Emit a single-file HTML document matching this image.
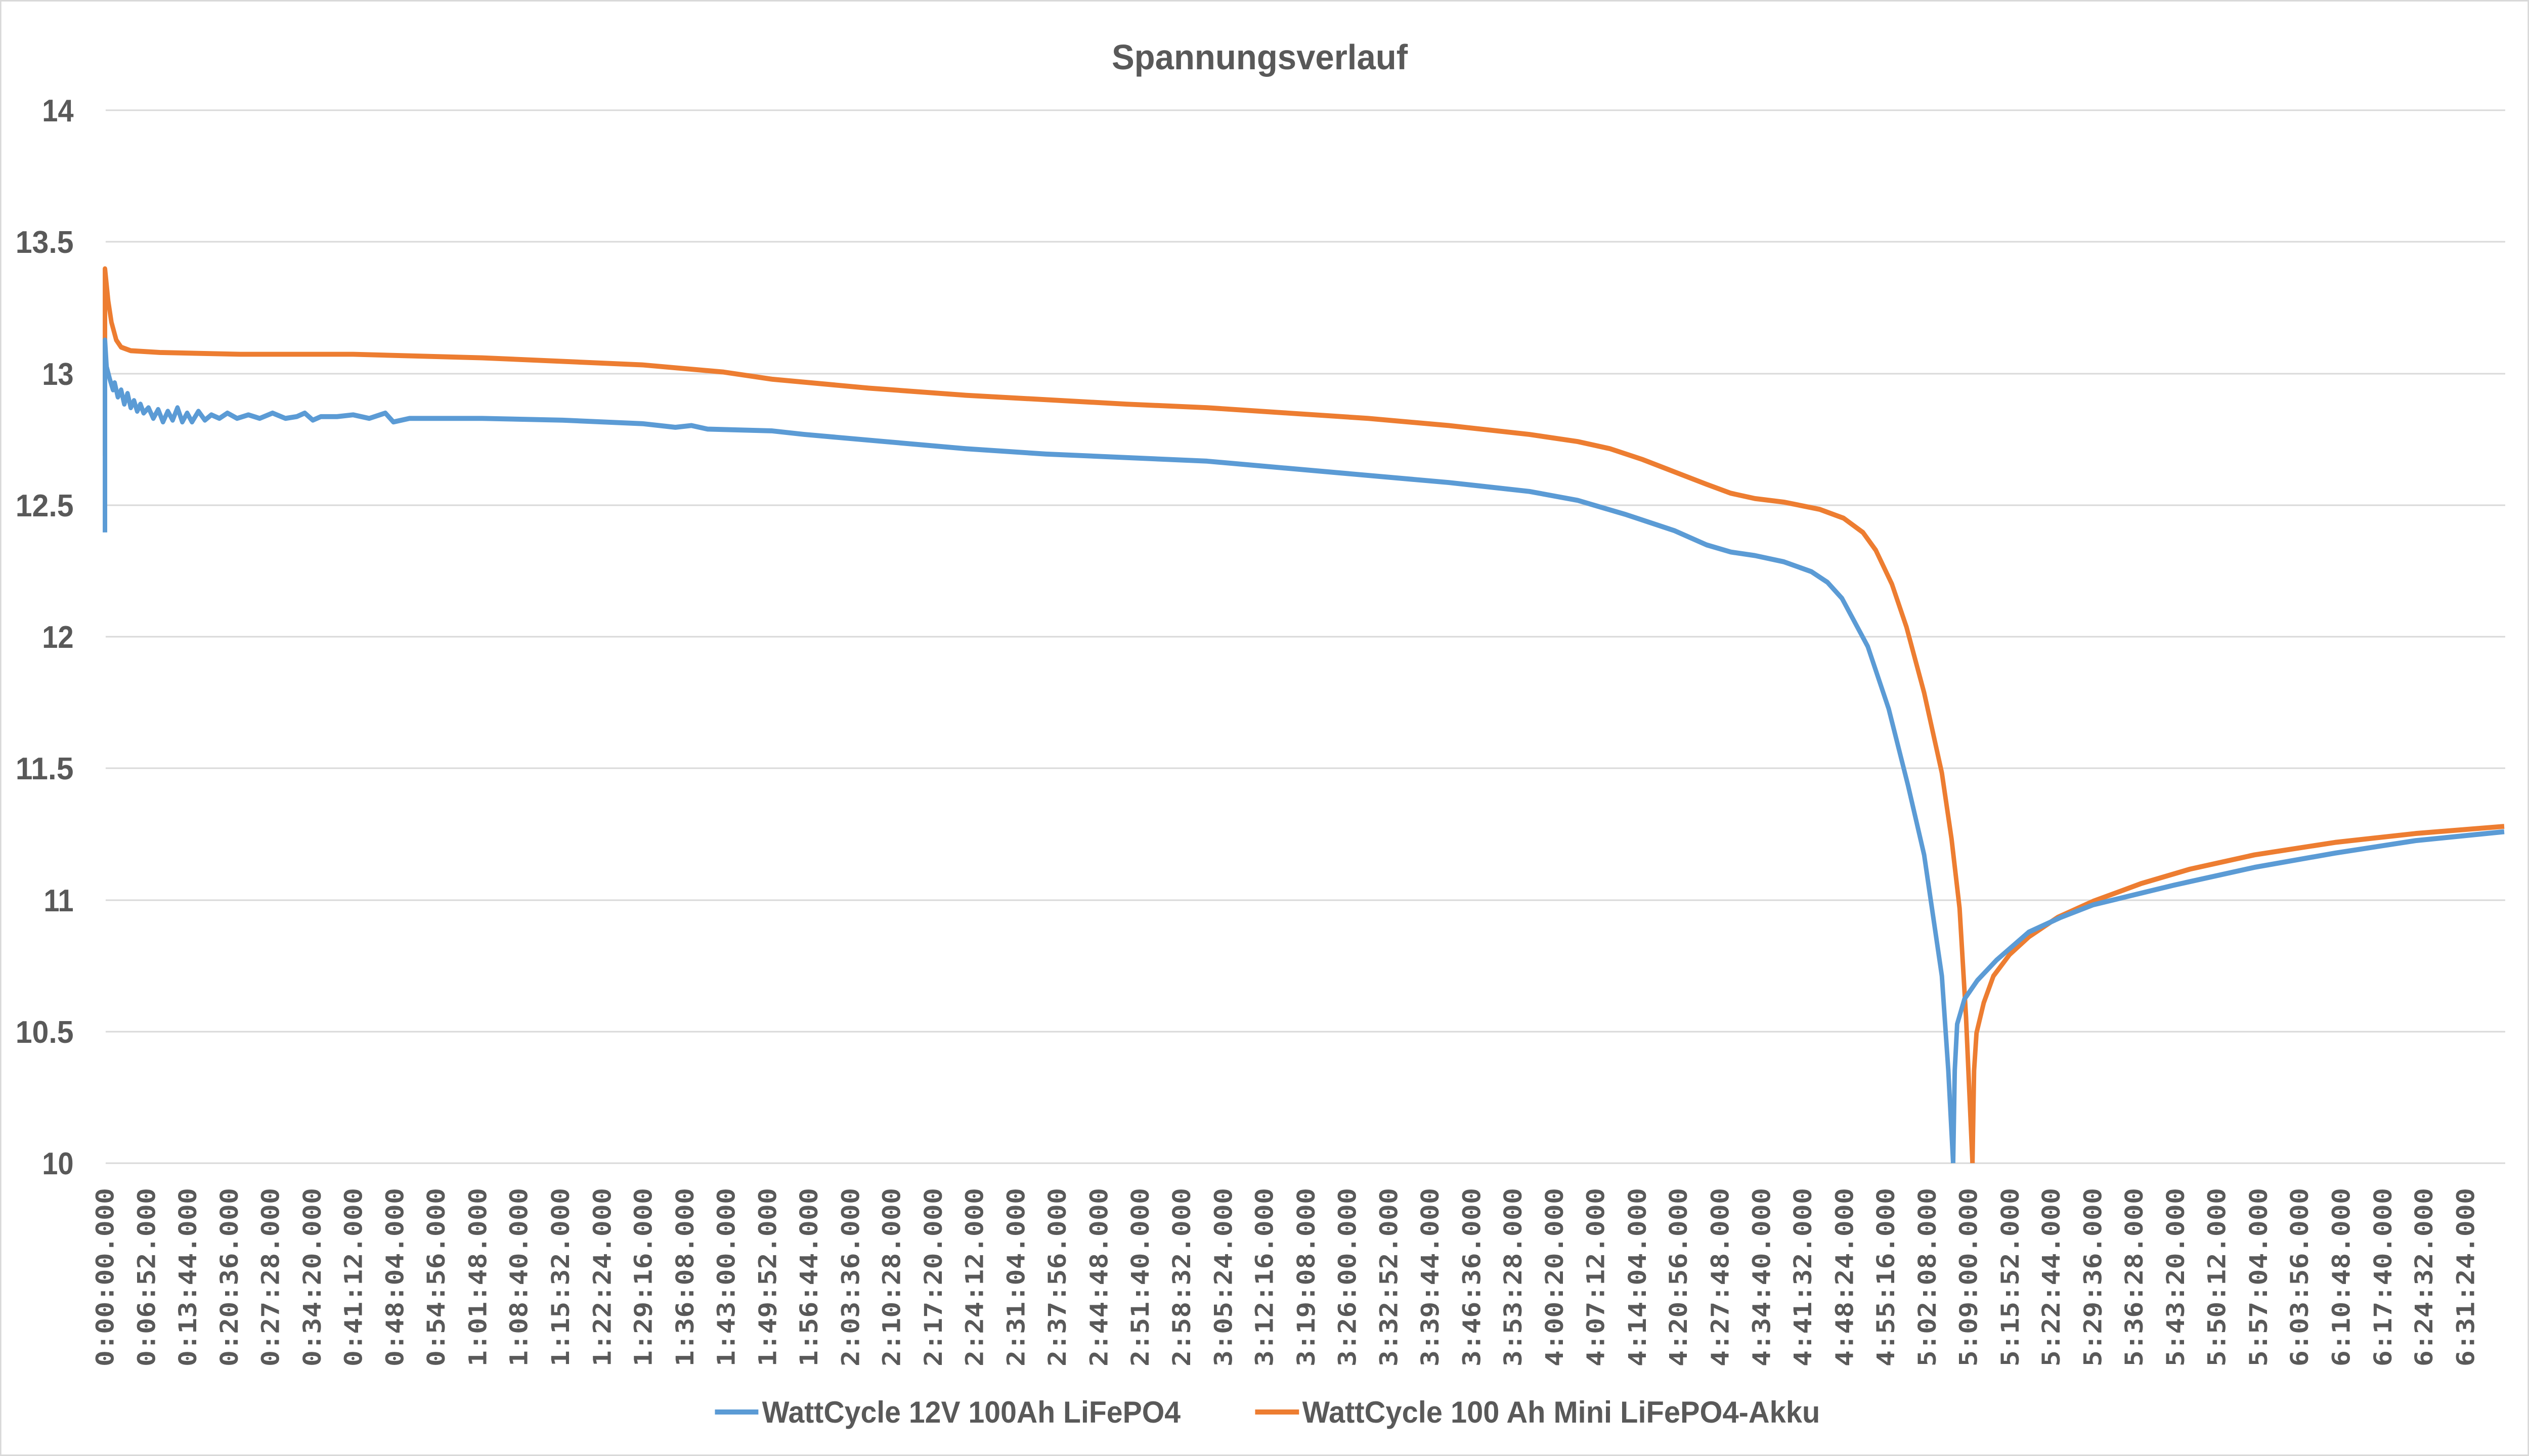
<!DOCTYPE html>
<html><head><meta charset="utf-8"><style>
html,body{margin:0;padding:0;background:#fff;overflow:hidden;width:100%;height:100%}
svg{display:block;width:100vw;height:100vh}
</style></head><body>
<svg viewBox="0 0 5529 2879" preserveAspectRatio="none" xmlns="http://www.w3.org/2000/svg">
<rect x="1.5" y="1.5" width="5526" height="2876" fill="#fff" stroke="#d9d9d9" stroke-width="3"/>
<g stroke="#d9d9d9" stroke-width="3">
<line x1="231" y1="218" x2="5477" y2="218"/>
<line x1="231" y1="478" x2="5477" y2="478"/>
<line x1="231" y1="739" x2="5477" y2="739"/>
<line x1="231" y1="999" x2="5477" y2="999"/>
<line x1="231" y1="1259" x2="5477" y2="1259"/>
<line x1="231" y1="1519" x2="5477" y2="1519"/>
<line x1="231" y1="1780" x2="5477" y2="1780"/>
<line x1="231" y1="2040" x2="5477" y2="2040"/>
<line x1="231" y1="2300" x2="5477" y2="2300"/>
</g>
<text x="2754" y="137" text-anchor="middle" font-family="Liberation Sans, sans-serif" font-weight="bold" font-size="70" fill="#595959" textLength="647" lengthAdjust="spacingAndGlyphs">Spannungsverlauf</text>
<g font-family="Liberation Sans, sans-serif" font-weight="bold" font-size="62" fill="#595959" text-anchor="end">
<text x="161" y="240">14</text>
<text x="161" y="500" textLength="127" lengthAdjust="spacingAndGlyphs">13.5</text>
<text x="161" y="761">13</text>
<text x="161" y="1021" textLength="127" lengthAdjust="spacingAndGlyphs">12.5</text>
<text x="161" y="1281">12</text>
<text x="161" y="1541" textLength="127" lengthAdjust="spacingAndGlyphs">11.5</text>
<text x="161" y="1802">11</text>
<text x="161" y="2062" textLength="127" lengthAdjust="spacingAndGlyphs">10.5</text>
<text x="161" y="2322">10</text>
</g>
<g transform="matrix(3.5227 0 0 3.5227 -3 3)" fill="none" stroke-linejoin="round" stroke-width="2.8">
<polyline stroke="#ed7d31" points="66,255 66,150 68,168 70,180 73,190 76,194 82,196 100,197 150,198 220,198 300,200 400,204 450,208 480,212 540,217 600,221 700,226 750,228 800,231 850,234 900,238 950,243 980,247 1000,251 1020,257 1040,264 1060,271 1075,276 1090,279 1108,281 1130,285 1145,290 1157,298 1165,308 1175,327 1184,351 1195,388 1206,433 1212,470 1217,509 1221,570 1225,652"/>
<polyline stroke="#ed7d31" points="1225,652 1226,600 1227.5,579 1232,562 1238,547 1248,535 1260,525 1278,514 1300,505 1330,495 1360,487 1400,479 1450,472 1500,467 1555,463"/>
<polyline stroke="#5b9bd5" points="66,298 66,190 67,205 69,212 71,218 72,214 74,222 76,218 78,226 80,220 82,228 84,224 86,230 88,226 90,231 93,228 96,234 99,229 102,236 105,230 108,235 111,228 114,236 117,231 120,236 124,230 128,235 132,232 137,234 142,231 148,234 155,232 162,234 170,231 178,234 185,233 190,231 195,235 200,233 210,233 220,232 230,234 240,231 245,236 255,234 300,234 350,235 400,237 420,239 430,238 440,240 480,241 500,243 550,247 600,251 650,254 700,256 750,258 800,262 850,266 900,270 950,275 980,280 1010,288 1040,297 1060,305 1075,309 1090,311 1108,314.5 1125,320 1135,326 1144,335 1160,362 1173,397 1185,440 1195,479 1206,547 1210,600 1213,652"/>
<polyline stroke="#5b9bd5" points="1213,652 1214,600 1215.5,574 1220,560 1228,549.5 1240,538 1260,522.3 1280,514 1300,507 1350,496 1400,486 1450,478 1500,471 1555,466"/>
</g>
<g font-family="DejaVu Sans Mono, Liberation Mono, monospace" font-weight="bold" font-size="53" fill="#595959" text-anchor="end">
<text transform="translate(248,2349) rotate(-90)" textLength="353">0:00:00.000</text>
<text transform="translate(339,2349) rotate(-90)" textLength="353">0:06:52.000</text>
<text transform="translate(429,2349) rotate(-90)" textLength="353">0:13:44.000</text>
<text transform="translate(520,2349) rotate(-90)" textLength="353">0:20:36.000</text>
<text transform="translate(610,2349) rotate(-90)" textLength="353">0:27:28.000</text>
<text transform="translate(701,2349) rotate(-90)" textLength="353">0:34:20.000</text>
<text transform="translate(791,2349) rotate(-90)" textLength="353">0:41:12.000</text>
<text transform="translate(882,2349) rotate(-90)" textLength="353">0:48:04.000</text>
<text transform="translate(972,2349) rotate(-90)" textLength="353">0:54:56.000</text>
<text transform="translate(1063,2349) rotate(-90)" textLength="353">1:01:48.000</text>
<text transform="translate(1153,2349) rotate(-90)" textLength="353">1:08:40.000</text>
<text transform="translate(1244,2349) rotate(-90)" textLength="353">1:15:32.000</text>
<text transform="translate(1335,2349) rotate(-90)" textLength="353">1:22:24.000</text>
<text transform="translate(1425,2349) rotate(-90)" textLength="353">1:29:16.000</text>
<text transform="translate(1516,2349) rotate(-90)" textLength="353">1:36:08.000</text>
<text transform="translate(1606,2349) rotate(-90)" textLength="353">1:43:00.000</text>
<text transform="translate(1697,2349) rotate(-90)" textLength="353">1:49:52.000</text>
<text transform="translate(1787,2349) rotate(-90)" textLength="353">1:56:44.000</text>
<text transform="translate(1878,2349) rotate(-90)" textLength="353">2:03:36.000</text>
<text transform="translate(1968,2349) rotate(-90)" textLength="353">2:10:28.000</text>
<text transform="translate(2059,2349) rotate(-90)" textLength="353">2:17:20.000</text>
<text transform="translate(2149,2349) rotate(-90)" textLength="353">2:24:12.000</text>
<text transform="translate(2240,2349) rotate(-90)" textLength="353">2:31:04.000</text>
<text transform="translate(2330,2349) rotate(-90)" textLength="353">2:37:56.000</text>
<text transform="translate(2421,2349) rotate(-90)" textLength="353">2:44:48.000</text>
<text transform="translate(2511,2349) rotate(-90)" textLength="353">2:51:40.000</text>
<text transform="translate(2602,2349) rotate(-90)" textLength="353">2:58:32.000</text>
<text transform="translate(2693,2349) rotate(-90)" textLength="353">3:05:24.000</text>
<text transform="translate(2783,2349) rotate(-90)" textLength="353">3:12:16.000</text>
<text transform="translate(2874,2349) rotate(-90)" textLength="353">3:19:08.000</text>
<text transform="translate(2964,2349) rotate(-90)" textLength="353">3:26:00.000</text>
<text transform="translate(3055,2349) rotate(-90)" textLength="353">3:32:52.000</text>
<text transform="translate(3145,2349) rotate(-90)" textLength="353">3:39:44.000</text>
<text transform="translate(3236,2349) rotate(-90)" textLength="353">3:46:36.000</text>
<text transform="translate(3326,2349) rotate(-90)" textLength="353">3:53:28.000</text>
<text transform="translate(3417,2349) rotate(-90)" textLength="353">4:00:20.000</text>
<text transform="translate(3507,2349) rotate(-90)" textLength="353">4:07:12.000</text>
<text transform="translate(3598,2349) rotate(-90)" textLength="353">4:14:04.000</text>
<text transform="translate(3688,2349) rotate(-90)" textLength="353">4:20:56.000</text>
<text transform="translate(3779,2349) rotate(-90)" textLength="353">4:27:48.000</text>
<text transform="translate(3870,2349) rotate(-90)" textLength="353">4:34:40.000</text>
<text transform="translate(3960,2349) rotate(-90)" textLength="353">4:41:32.000</text>
<text transform="translate(4051,2349) rotate(-90)" textLength="353">4:48:24.000</text>
<text transform="translate(4141,2349) rotate(-90)" textLength="353">4:55:16.000</text>
<text transform="translate(4232,2349) rotate(-90)" textLength="353">5:02:08.000</text>
<text transform="translate(4322,2349) rotate(-90)" textLength="353">5:09:00.000</text>
<text transform="translate(4413,2349) rotate(-90)" textLength="353">5:15:52.000</text>
<text transform="translate(4503,2349) rotate(-90)" textLength="353">5:22:44.000</text>
<text transform="translate(4594,2349) rotate(-90)" textLength="353">5:29:36.000</text>
<text transform="translate(4684,2349) rotate(-90)" textLength="353">5:36:28.000</text>
<text transform="translate(4775,2349) rotate(-90)" textLength="353">5:43:20.000</text>
<text transform="translate(4865,2349) rotate(-90)" textLength="353">5:50:12.000</text>
<text transform="translate(4956,2349) rotate(-90)" textLength="353">5:57:04.000</text>
<text transform="translate(5046,2349) rotate(-90)" textLength="353">6:03:56.000</text>
<text transform="translate(5137,2349) rotate(-90)" textLength="353">6:10:48.000</text>
<text transform="translate(5228,2349) rotate(-90)" textLength="353">6:17:40.000</text>
<text transform="translate(5318,2349) rotate(-90)" textLength="353">6:24:32.000</text>
<text transform="translate(5409,2349) rotate(-90)" textLength="353">6:31:24.000</text>
</g>
<line x1="1563" y1="2792" x2="1658" y2="2792" stroke="#5b9bd5" stroke-width="10"/>
<line x1="2744" y1="2792" x2="2840" y2="2792" stroke="#ed7d31" stroke-width="10"/>
<g font-family="Liberation Sans, sans-serif" font-weight="bold" font-size="60" fill="#595959">
<text x="1666" y="2813" textLength="915" lengthAdjust="spacingAndGlyphs">WattCycle 12V 100Ah LiFePO4</text>
<text x="2847" y="2813" textLength="1132" lengthAdjust="spacingAndGlyphs">WattCycle 100 Ah Mini LiFePO4-Akku</text>
</g>
</svg>
</body></html>
